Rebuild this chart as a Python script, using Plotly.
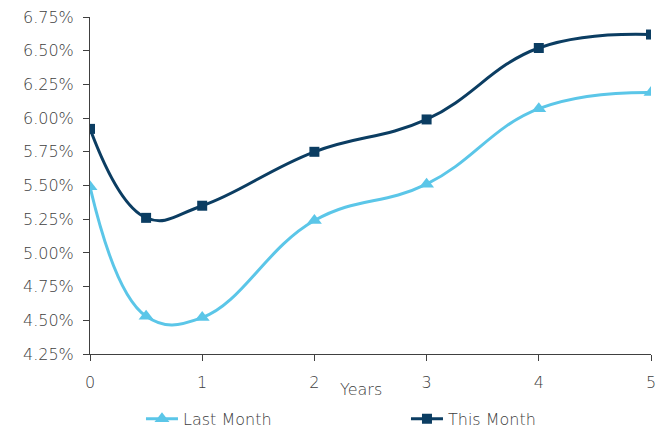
import plotly.graph_objects as go

years = [0, 0.5, 1, 2, 3, 4, 5]
last_month = [5.49, 4.53, 4.52, 5.24, 5.51, 6.07, 6.19]
this_month = [5.92, 5.26, 5.35, 5.75, 5.99, 6.52, 6.62]
y_ticks = [4.25, 4.50, 4.75, 5.00, 5.25, 5.50, 5.75, 6.00, 6.25, 6.50, 6.75]
y_tick_labels = [f"{v:.2f}%" for v in y_ticks]

FONT = "DejaVu Sans"
GRAY = "#404040"
W = 200

fig = go.Figure()
fig.add_trace(go.Scatter(
    x=years, y=last_month, name="Last Month", mode="lines+markers",
    line=dict(color="#5BC6E8", width=3, shape="spline", smoothing=1.2),
    marker=dict(symbol="triangle-up", size=13, color="#5BC6E8"),
))
fig.add_trace(go.Scatter(
    x=years, y=this_month, name="This Month", mode="lines+markers",
    line=dict(color="#0B3D62", width=3, shape="spline", smoothing=1.2),
    marker=dict(symbol="square", size=10, color="#0B3D62"),
))

fig.update_layout(
    width=665, height=430,
    margin=dict(l=90, r=14, t=17, b=76, autoexpand=False),
    paper_bgcolor="white", plot_bgcolor="white",
    font=dict(family=FONT, size=15, color=GRAY, weight=W),
    showlegend=True,
    legend=dict(orientation="h", xref="container", yref="container",
                x=0.212, xanchor="left", y=0.026, yanchor="middle",
                font=dict(size=16, color=GRAY, weight=W),
                entrywidth=218, itemwidth=32, bgcolor="rgba(0,0,0,0)"),
    xaxis=dict(range=[0, 5], tickvals=[0, 1, 2, 3, 4, 5], showgrid=False, zeroline=False,
               showline=True, linecolor="#404040", linewidth=1,
               ticks="outside", ticklen=6, tickcolor="#404040",
               ticklabelstandoff=8,
               tickfont=dict(size=16, color=GRAY, weight=W)),
    yaxis=dict(range=[4.25, 6.75], tickvals=y_ticks, ticktext=y_tick_labels,
               showgrid=False, zeroline=False,
               showline=True, linecolor="#404040", linewidth=1,
               ticks="outside", ticklen=6, tickcolor="#404040",
               ticklabelstandoff=6,
               tickfont=dict(size=16, color=GRAY, weight=W)),
    annotations=[dict(text="Years", xref="paper", yref="paper", x=0.483, y=-0.07,
                      xanchor="center", yanchor="top", showarrow=False,
                      font=dict(size=16, color=GRAY, weight=W))],
)

fig.write_html("out.html", config={"displayModeBar": False},
               post_script="document.body.style.margin='0';document.body.style.padding='0';")
